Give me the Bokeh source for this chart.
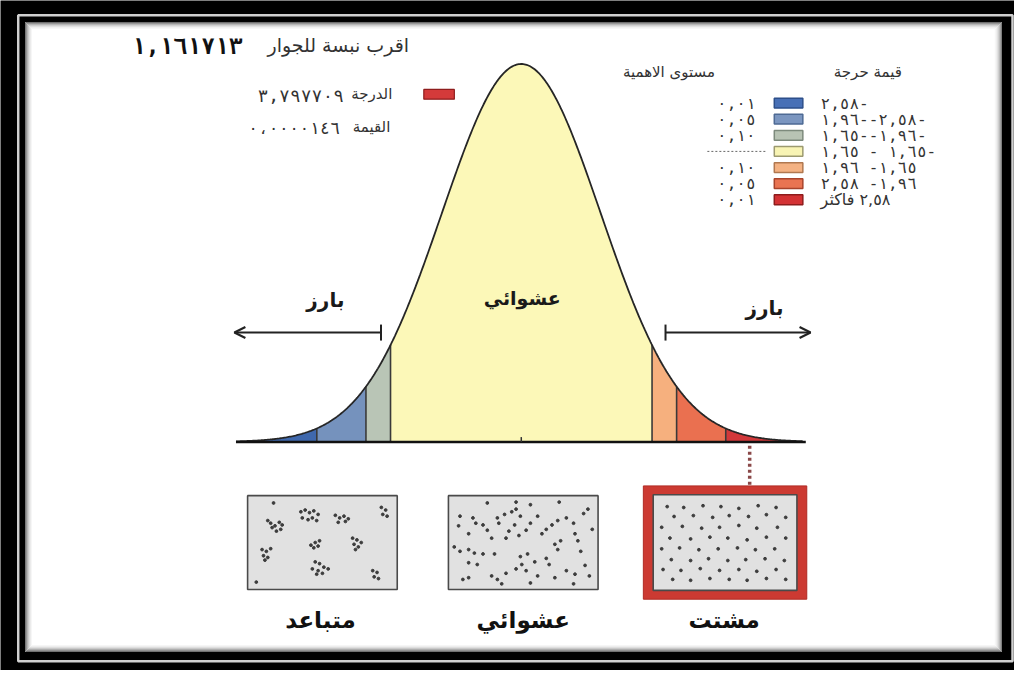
import numpy as np
from bokeh.plotting import figure
from bokeh.models import Range1d, Arrow, OpenHead, TeeHead
from bokeh.core.properties import value
from bokeh.embed import file_html
from bokeh.resources import INLINE

# ---------------- data ----------------
z_thresholds = [-2.58, -1.96, -1.65, 1.65, 1.96, 2.58]
z_limits = [-3.6, 3.55]
zone_colors = ["#3f68ad", "#7592bd", "#b9c5b6", "#fcf8b8", "#f6b07e", "#ea7050", "#d2383a"]
legend_colors = ["#4870b6", "#7b96c0", "#b8c3b4", "#f8f4b4", "#f4b283", "#e97452", "#d33234"]
legend_borders = ["#2d4f8a", "#4e6a94", "#7d8a7c", "#9c9a70", "#b07850", "#a8442c", "#8e1c1c"]
critical_labels = ["٢,٥٨-", "١,٩٦--٢,٥٨-", "١,٦٥--١,٩٦-", "١,٦٥ - ١,٦٥-", "١,٩٦ -١,٦٥", "٢,٥٨ -١,٩٦", "٢,٥٨ فاكثر"]
significance_labels = ["٠,٠١", "٠,٠٥", "٠,١٠", "", "٠,١٠", "٠,٠٥", "٠,٠١"]
legend_headers = ["قيمة حرجة", "مستوى الاهمية"]
stat_names = ["اقرب نبسة للجوار", "الدرجة", "القيمة"]
stat_values = ["١,١٦١٧١٣", "٣,٧٩٧٧٠٩", "٠،٠٠٠٠١٤٦"]
zone_words = ["بارز", "عشوائي", "بارز"]
pattern_names = ["متباعد", "عشوائي", "مشتت"]

clustered_u = [0.16, 0.12, 0.14, 0.17, 0.15, 0.20, 0.22, 0.21, 0.18, 0.35, 0.38, 0.41, 0.44, 0.36, 0.40, 0.43, 0.46, 0.47,
               0.59, 0.62, 0.65, 0.61, 0.66, 0.68, 0.91, 0.94, 0.92, 0.95, 0.08, 0.11, 0.14, 0.09, 0.12, 0.10,
               0.42, 0.45, 0.48, 0.47, 0.44, 0.71, 0.74, 0.77, 0.72, 0.75, 0.73, 0.45, 0.48, 0.43, 0.47, 0.51, 0.54, 0.50, 0.46,
               0.85, 0.88, 0.86, 0.89, 0.04]
clustered_v = [0.05, 0.25, 0.28, 0.31, 0.33, 0.27, 0.30, 0.35, 0.37, 0.15, 0.13, 0.16, 0.14, 0.22, 0.24, 0.22, 0.25, 0.18,
               0.19, 0.22, 0.20, 0.27, 0.26, 0.23, 0.10, 0.13, 0.18, 0.20, 0.58, 0.60, 0.57, 0.65, 0.67, 0.70,
               0.53, 0.50, 0.48, 0.54, 0.56, 0.45, 0.47, 0.50, 0.52, 0.55, 0.58, 0.72, 0.74, 0.80, 0.82, 0.78, 0.80, 0.85, 0.86,
               0.82, 0.84, 0.89, 0.91, 0.95]

random_u = [0.06, 0.05, 0.15, 0.17, 0.12, 0.22, 0.25, 0.28, 0.32, 0.33, 0.37, 0.42, 0.45, 0.48, 0.44, 0.40, 0.38, 0.47,
            0.52, 0.55, 0.60, 0.63, 0.66, 0.70, 0.74, 0.80, 0.85, 0.92, 0.95, 0.86, 0.88, 0.76, 0.72, 0.74, 0.90, 0.06,
            0.12, 0.16, 0.22, 0.30, 0.12, 0.18, 0.08, 0.12, 0.28, 0.32, 0.38, 0.45, 0.49, 0.52, 0.48, 0.53, 0.58, 0.66,
            0.68, 0.60, 0.72, 0.80, 0.86, 0.93, 0.96, 0.25, 0.45, 0.55, 0.75, 0.98, 0.02, 0.35, 0.55, 0.85]
random_v = [0.20, 0.31, 0.22, 0.28, 0.40, 0.30, 0.36, 0.45, 0.22, 0.28, 0.18, 0.15, 0.12, 0.20, 0.30, 0.37, 0.45, 0.42,
            0.36, 0.28, 0.20, 0.40, 0.35, 0.30, 0.25, 0.22, 0.28, 0.17, 0.12, 0.40, 0.48, 0.48, 0.52, 0.58, 0.60, 0.60,
            0.58, 0.62, 0.63, 0.63, 0.73, 0.75, 0.92, 0.90, 0.88, 0.92, 0.85, 0.80, 0.75, 0.82, 0.66, 0.63, 0.72, 0.68,
            0.75, 0.88, 0.90, 0.82, 0.86, 0.76, 0.88, 0.05, 0.04, 0.07, 0.04, 0.35, 0.55, 0.97, 0.96, 0.97]

dispersed_u = [0.08, 0.20, 0.34, 0.47, 0.60, 0.74, 0.87,
               0.13, 0.27, 0.41, 0.53, 0.67, 0.80, 0.94,
               0.04, 0.19, 0.33, 0.46, 0.60, 0.73, 0.88,
               0.10, 0.25, 0.39, 0.52, 0.66, 0.80, 0.94,
               0.04, 0.17, 0.31, 0.45, 0.59, 0.72, 0.86,
               0.11, 0.25, 0.38, 0.52, 0.65, 0.79, 0.93,
               0.05, 0.18, 0.32, 0.46, 0.60, 0.73, 0.87,
               0.12, 0.25, 0.39, 0.53, 0.66, 0.80, 0.94]
dispersed_v = [0.10, 0.11, 0.09, 0.10, 0.12, 0.09, 0.11,
               0.21, 0.20, 0.22, 0.20, 0.21, 0.19, 0.22,
               0.33, 0.32, 0.34, 0.33, 0.31, 0.34, 0.33,
               0.45, 0.46, 0.44, 0.45, 0.47, 0.44, 0.45,
               0.57, 0.56, 0.58, 0.57, 0.56, 0.58, 0.57,
               0.69, 0.70, 0.68, 0.70, 0.69, 0.68, 0.70,
               0.80, 0.81, 0.79, 0.81, 0.80, 0.82, 0.80,
               0.91, 0.92, 0.90, 0.91, 0.92, 0.90, 0.91]

# ---------------- layout ----------------
W, H = 1014, 670
RW, RH = 1030, 686                 # design space (reference pixels)
CX, PXZ, BASE, PEAK_H = 529, 80.5, 452, 387
AR = "DejaVu Sans"
MONO = "DejaVu Sans Mono"
LRO, PDF_ = "\u202d", "\u202c"


def pdf(z):
    z = np.asarray(z, dtype=float)
    return np.exp(-z ** 2 / 2) / np.sqrt(2 * np.pi)


k = float(pdf(0)) / PEAK_H

p = figure(width=W, height=H, output_backend="svg", toolbar_location=None,
           x_range=Range1d(0, RW), y_range=Range1d(RH, 0),
           min_border=0, outline_line_color=None,
           background_fill_color="black", border_fill_color="black")
p.axis.visible = False
p.grid.visible = False
p.extra_x_ranges = {"z": Range1d((0 - CX) / PXZ, (RW - CX) / PXZ)}
p.extra_y_ranges = {"pdf": Range1d((BASE - RH) * k, (BASE - 0) * k)}

# frame
p.quad(left=[18], right=[1028], top=[15], bottom=[676.5], fill_color=None, line_color="#d0d0d0", line_width=2.5)
p.quad(left=[25], right=[1017], top=[22], bottom=[667], fill_color="white", line_color=None)
shades = ["#6a6a6a", "#8e8e8e", "#aeaeae", "#c8c8c8", "#dcdcdc", "#ebebeb", "#f6f6f6"]
for i, c in enumerate(shades):
    p.quad(left=[25.5 + i], right=[1016.5 - i], top=[22.5 + i], bottom=[666.5 - i],
           fill_color=None, line_color=c, line_width=1)

# bell curve zones
edges = [z_limits[0]] + z_thresholds + [z_limits[1]]
for i in range(len(edges) - 1):
    zz = np.linspace(edges[i], edges[i + 1], 120)
    p.varea(x=zz, y1=0, y2=pdf(zz), fill_color=zone_colors[i],
            x_range_name="z", y_range_name="pdf")
p.segment(x0=z_thresholds, y0=0, x1=z_thresholds, y1=pdf(z_thresholds),
          line_color="#3a3a3a", line_width=1.6, x_range_name="z", y_range_name="pdf")
zg = np.linspace(z_limits[0], z_limits[1], 500)
p.line(zg, pdf(zg), line_color="#262626", line_width=1.8, x_range_name="z", y_range_name="pdf")
p.line([z_limits[0], z_limits[1] + 0.04], [0, 0], line_color="#111111", line_width=2.4,
       x_range_name="z", y_range_name="pdf")
p.segment(x0=[0], y0=[0], x1=[0], y1=[5 * k], line_color="#333", line_width=1.5,
          x_range_name="z", y_range_name="pdf")

# arrows
ya = (BASE - 340) * k
for xs, xe in [(z_thresholds[2] - 0.12, z_limits[0] - 0.02), (z_thresholds[3] + 0.17, z_limits[1] + 0.1)]:
    p.add_layout(Arrow(x_start=xs, y_start=ya, x_end=xe, y_end=ya,
                       start=TeeHead(size=16, line_width=2, line_color="#222"),
                       end=OpenHead(size=11, line_width=2.2, line_color="#222"),
                       line_width=2, line_color="#222", x_range_name="z", y_range_name="pdf"))

p.text(x=[330, 530, 776], y=[307, 305, 315], text=zone_words, text_font=value(AR),
       text_font_style="bold", text_font_size=["20px", "19px", "20px"], text_align="center",
       text_baseline="middle", text_color="#1a1a1a")

# dotted link from tail to dispersed box
p.segment(x0=[761], y0=[456], x1=[761], y1=[497], line_color="#8a4848", line_width=3.5, line_dash="3 3")

# pattern boxes
boxes = [(251, 403, 507, 603), (455, 607, 507, 603), (663, 809, 506, 604)]
p.quad(left=[653], right=[819], top=[497], bottom=[613], fill_color="#cc3a32", line_color="#b02a24", line_width=1)
p.quad(left=[b[0] for b in boxes], right=[b[1] for b in boxes], top=[b[2] for b in boxes],
       bottom=[b[3] for b in boxes], fill_color="#e1e1e1", line_color="#4a4a4a", line_width=1.6)
for (l, r, t, b), us, vs in zip(boxes, [clustered_u, random_u, dispersed_u], [clustered_v, random_v, dispersed_v]):
    xs = [l + 3 + u * (r - l - 6) for u in us]
    ys = [t + 3 + v * (b - t - 6) for v in vs]
    p.scatter(xs, ys, size=2.8, color="#3c3c3c")

p.text(x=[325, 531, 735], y=[634, 634, 634], text=pattern_names, text_font=value(AR),
       text_font_style="bold", text_font_size="23px", text_align="center", text_baseline="middle",
       text_color="#111")

# top-left statistics
p.text(x=[415, 398, 396], y=[46, 96, 130], text=stat_names, text_font=value(AR),
       text_font_size=["19px", "15px", "15px"], text_align="right", text_baseline="middle", text_color="#333")
p.text(x=[246], y=[47], text=[LRO + stat_values[0] + PDF_], text_font=value(MONO),
       text_font_style="bold", text_font_size="23px", text_align="right", text_baseline="middle",
       text_color="#111")
p.text(x=[349, 345], y=[97, 131], text=[LRO + s + PDF_ for s in stat_values[1:]], text_font=value(MONO),
       text_font_size=["18px", "17px"], text_align="right", text_baseline="middle", text_color="#333")
p.quad(left=[430], right=[461], top=[91], bottom=[101], fill_color="#d43a3a", line_color="#8e1c1c", line_width=1.2)

# legend
p.text(x=[881, 679], y=[73, 73], text=legend_headers, text_font=value(AR), text_font_size="15px",
       text_align="center", text_baseline="middle", text_color="#333")
row_y = [105 + 16.5 * i for i in range(len(critical_labels))]
p.quad(left=[786] * 7, right=[815] * 7, top=[y - 5 for y in row_y], bottom=[y + 5 for y in row_y],
       fill_color=legend_colors, line_color=legend_borders, line_width=1.5)
is_word = [any("\u0621" <= ch <= "\u064a" for ch in s) for s in critical_labels]
num_i = [i for i, w in enumerate(is_word) if not w]
word_i = [i for i, w in enumerate(is_word) if w]
p.text(x=[833] * len(num_i), y=[row_y[i] for i in num_i], text=[LRO + critical_labels[i] + PDF_ for i in num_i],
       text_font=value(MONO), text_font_size="16px", text_align="left", text_baseline="middle", text_color="#333")
p.text(x=[833] * len(word_i), y=[row_y[i] for i in word_i], text=[critical_labels[i] for i in word_i],
       text_font=value(AR), text_font_size="16px", text_align="left", text_baseline="middle", text_color="#333")
sig_idx = [i for i, s in enumerate(significance_labels) if s]
p.text(x=[767] * len(sig_idx), y=[row_y[i] for i in sig_idx],
       text=[LRO + significance_labels[i] + PDF_ for i in sig_idx], text_font=value(MONO),
       text_font_size="16px", text_align="right", text_baseline="middle", text_color="#333")
mid = [i for i, s in enumerate(significance_labels) if not s][0]
p.segment(x0=[718], y0=[row_y[mid]], x1=[778], y1=[row_y[mid]], line_color="#666", line_width=1,
          line_dash="2 2")

open("out.html", "w").write(file_html(p, INLINE))
